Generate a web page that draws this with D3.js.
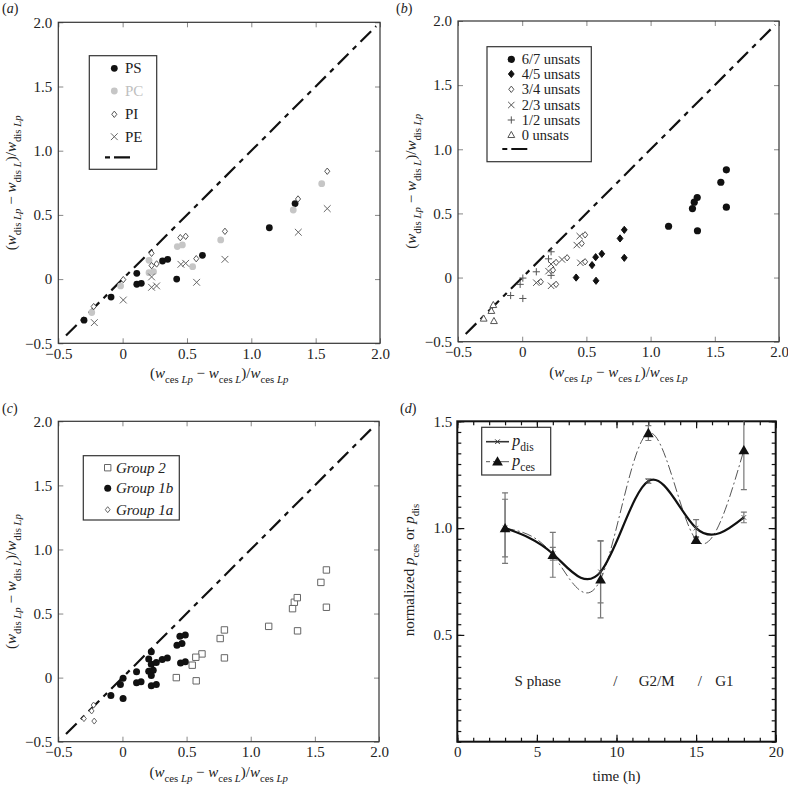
<!DOCTYPE html>
<html><head><meta charset="utf-8">
<script src="https://cdn.jsdelivr.net/npm/d3@7"></script>
<style>
body{margin:0;background:#fff}
svg{display:block}
text{font-family:"Liberation Serif","Times New Roman","DejaVu Serif",serif;fill:#222}
</style>
</head><body>
<svg id="chart" width="788" height="788"></svg>
<script>
// ---------------- DATA ----------------
// 11 lipid species for each head group (same species order in every group)
const psX = [-0.30,-0.09,0.11,0.11,0.145,0.31,0.35,0.42,0.62,1.14,1.34];
const psY = [-0.32,-0.14,0.045,-0.04,-0.033,0.141,0.154,0.0,0.185,0.40,0.588];
const pcX = [-0.24,-0.016,0.205,0.205,0.24,0.425,0.464,0.544,0.762,1.326,1.547];
const pcY = [-0.26,-0.053,0.146,0.05,0.058,0.253,0.266,0.097,0.305,0.538,0.743];
const piX = [-0.225,0.005,0.225,0.225,0.264,0.448,0.49,0.572,0.795,1.363,1.59];
const piY = [-0.214,-0.004,0.201,0.105,0.118,0.323,0.333,0.159,0.372,0.624,0.84];
const peX = [-0.22,0.005,0.225,0.225,0.264,0.453,0.49,0.575,0.795,1.365,1.59];
const peY = [-0.339,-0.163,0.017,-0.064,-0.053,0.115,0.123,-0.025,0.154,0.365,0.549];
const headGroups = ["PS","PC","PI","PE"];
const speciesUnsat = ["0 unsats","1/2 unsats","1/2 unsats","2/3 unsats","3/4 unsats","2/3 unsats","3/4 unsats","4/5 unsats","4/5 unsats","6/7 unsats","6/7 unsats"];
const unsatLabels = ["6/7 unsats","4/5 unsats","3/4 unsats","2/3 unsats","1/2 unsats","0 unsats"];
const groupLabels = ["Group 2","Group 1b","Group 1a"];
const unsatGroup = {"0 unsats":"Group 1a","1/2 unsats":"Group 1b","2/3 unsats":"Group 1b","3/4 unsats":"Group 1b","4/5 unsats":"Group 2","6/7 unsats":"Group 2"};
const scatterTicks = [-0.5,0,0.5,1.0,1.5,2.0];
const scatterTickLabels = ["−0.5","0","0.5","1.0","1.5","2.0"];
const diagonalEnds = [-0.44,1.97];

const timeH = [3,6,9,12,15,18];
const pDis = [1.0,0.88,0.795,1.22,1.0,1.05];
const pDisErr = [0.135,0.03,0.145,0.01,0.04,0.025];
const pCes = [1.0,0.875,0.76,1.445,0.945,1.365];
const pCesErr = [0.165,0.105,0.18,0.035,0.01,0.185];
const timeTicks = [0,5,10,15,20];
const normTicks = [0.5,1.0,1.5];
const phaseText = ["S phase","/","G2/M","/","G1"];
const phaseT = [3.6,9.8,11.4,15.1,16.2];
const phaseLevel = 0.262;

// ---------------- HELPERS ----------------
const svg = d3.select("#chart");
const lipid = [];
[[psX,psY],[pcX,pcY],[piX,piY],[peX,peY]].forEach((xy,gi)=>{
  xy[0].forEach((x,i)=>lipid.push({x:x,y:xy[1][i],head:headGroups[gi],unsat:speciesUnsat[i],group:unsatGroup[speciesUnsat[i]]}));
});

function markerPath(type,s){
  const p=d3.path();
  if(type==="diamond"){p.moveTo(0,-s);p.lineTo(s*0.8,0);p.lineTo(0,s);p.lineTo(-s*0.8,0);p.closePath();}
  else if(type==="cross"){p.moveTo(-s,-s);p.lineTo(s,s);p.moveTo(-s,s);p.lineTo(s,-s);}
  else if(type==="plus"){p.moveTo(-s,0);p.lineTo(s,0);p.moveTo(0,-s);p.lineTo(0,s);}
  else if(type==="triangle"){p.moveTo(0,-s);p.lineTo(s*0.95,s*0.7);p.lineTo(-s*0.95,s*0.7);p.closePath();}
  else if(type==="square"){p.rect(-s,-s,2*s,2*s);}
  return p.toString();
}
function drawMarker(g,st,cx,cy){
  if(st.type==="dot"){
    g.append("circle").attr("cx",cx).attr("cy",cy).attr("r",st.r).attr("fill",st.color);
  } else {
    g.append("path").attr("d",markerPath(st.type,st.s)).attr("transform",`translate(${cx},${cy})`)
     .attr("fill",st.fill||"none").attr("stroke",st.color).attr("stroke-width",st.sw||1);
  }
}
function richText(t,parts,size){
  let shift=0;
  parts.forEach(p=>{
    const target = p.sub? size*0.32 : 0;
    const ts=t.append("tspan").text(p.t).attr("dy",target-shift);
    shift=target;
    if(p.it) ts.attr("font-style","italic");
    ts.attr("font-size", p.sub? size*0.72 : size);
  });
}
const yLabelParts=[{t:"("},{t:"w",it:1},{t:"dis ",sub:1},{t:"Lp",sub:1,it:1},{t:" − "},{t:"w",it:1},{t:"dis ",sub:1},{t:"L",sub:1,it:1},{t:")/"},{t:"w",it:1},{t:"dis ",sub:1},{t:"Lp",sub:1,it:1}];
const xLabelParts=[{t:"("},{t:"w",it:1},{t:"ces ",sub:1},{t:"Lp",sub:1,it:1},{t:" − "},{t:"w",it:1},{t:"ces ",sub:1},{t:"L",sub:1,it:1},{t:")/"},{t:"w",it:1},{t:"ces ",sub:1},{t:"Lp",sub:1,it:1}];

function panelLabel(x,y,letter){
  const t=svg.append("text").attr("x",x).attr("y",y).attr("font-size",14);
  t.append("tspan").text("(");
  t.append("tspan").text(letter).attr("font-style","italic");
  t.append("tspan").text(")");
}

function scatterPanel(box,styleOf,legend){
  const x=d3.scaleLinear().domain([-0.5,2]).range([box.l,box.r]);
  const y=d3.scaleLinear().domain([-0.5,2]).range([box.b,box.t]);
  const g=svg.append("g");
  const fmt=(d)=>scatterTickLabels[scatterTicks.indexOf(d)];
  const ax=(a,tr,lab,pad)=>{
    const s=g.append("g").attr("transform",tr).call(a.tickValues(scatterTicks).tickSize(-5).tickPadding(lab?pad:0).tickFormat(lab?fmt:""));
    s.select(".domain").remove();
    s.attr("font-family",null);
    s.selectAll(".tick line").attr("stroke","#888");
    s.selectAll("text").attr("font-size",15).attr("fill","#222");
    return s;
  };
  ax(d3.axisBottom(x),`translate(0,${box.b})`,true,5);
  ax(d3.axisTop(x),`translate(0,${box.t})`,false,0);
  ax(d3.axisLeft(y),`translate(${box.l},0)`,true,6);
  ax(d3.axisRight(y),`translate(${box.r},0)`,false,0);
  g.append("rect").attr("x",box.l).attr("y",box.t).attr("width",box.r-box.l).attr("height",box.b-box.t)
   .attr("fill","none").attr("stroke","#333").attr("stroke-width",1.2);
  g.append("line").attr("x1",x(diagonalEnds[0])).attr("y1",y(diagonalEnds[0]))
   .attr("x2",x(diagonalEnds[1])).attr("y2",y(diagonalEnds[1]))
   .attr("stroke","#111").attr("stroke-width",2.2).attr("stroke-dasharray","15,6,5,6");
  lipid.forEach(d=>{const st=styleOf(d); if(st) drawMarker(g,st,x(d.x),y(d.y));});
  // axis labels
  const xl=svg.append("text").attr("x",(box.l+box.r)/2).attr("y",box.b+35).attr("text-anchor","middle");
  richText(xl,xLabelParts,15);
  const yl=svg.append("text").attr("transform",`translate(${box.l-42},${(box.t+box.b)/2}) rotate(-90)`).attr("text-anchor","middle");
  richText(yl,yLabelParts,15);
  // legend
  const L=legend;
  g.append("rect").attr("x",L.x).attr("y",L.y).attr("width",L.w).attr("height",L.h)
   .attr("fill","white").attr("stroke","#333").attr("stroke-width",1.2);
  L.items.forEach((it,i)=>{
    const yy=L.rows[i];
    drawMarker(g,it.style,L.mx,yy);
    g.append("text").attr("x",L.tx).attr("y",yy+5).attr("font-size",L.fs)
     .attr("font-style",L.italic?"italic":null).style("fill",it.textColor||"#222").text(it.label);
  });
  if(L.lineY){
    g.append("line").attr("x1",L.lx[0]).attr("x2",L.lx[1]).attr("y1",L.lineY).attr("y2",L.lineY)
     .attr("stroke","#111").attr("stroke-width",2.2).attr("stroke-dasharray","5,4,20,0");
  }
}

// ---------------- PANEL (a) ----------------
const headStyle={
  PS:{type:"dot",r:3.4,color:"#111"},
  PC:{type:"dot",r:3.4,color:"#c6c6c6"},
  PI:{type:"diamond",s:3.2,color:"#555",fill:"white"},
  PE:{type:"cross",s:3.4,color:"#666"}
};
scatterPanel({l:58.3,r:380,t:22.3,b:343.3},d=>headStyle[d.head],{
  x:89.3,y:55.7,w:67.4,h:113.6,mx:114.3,tx:125,fs:15,
  rows:[68.3,91,114.3,136.7],lineY:157.3,lx:[105,130],
  items:headGroups.map(h=>({label:h,style:headStyle[h],textColor:h==="PC"?"#c0c0c0":"#222"}))
});
panelLabel(2,13,"a");

// ---------------- PANEL (b) ----------------
const unsatStyle={
  "6/7 unsats":{type:"dot",r:3.6,color:"#111"},
  "4/5 unsats":{type:"diamond",s:3.6,color:"#111",fill:"#111"},
  "3/4 unsats":{type:"diamond",s:3.2,color:"#555",fill:"white"},
  "2/3 unsats":{type:"cross",s:3.2,color:"#555"},
  "1/2 unsats":{type:"plus",s:3.6,color:"#555"},
  "0 unsats":{type:"triangle",s:3.6,color:"#555",fill:"white"}
};
scatterPanel({l:458,r:779,t:21,b:341.7},d=>unsatStyle[d.unsat],{
  x:487,y:46.7,w:104.3,h:115,mx:511.3,tx:521.7,fs:14.5,
  rows:[59.3,74,89.3,105,120,135],lineY:149,lx:[502.3,527.3],
  items:unsatLabels.map(u=>({label:u,style:unsatStyle[u]}))
});
panelLabel(396,13,"b");

// ---------------- PANEL (c) ----------------
const groupStyle={
  "Group 2":{type:"square",s:3.2,color:"#666",fill:"white"},
  "Group 1b":{type:"dot",r:3.5,color:"#111"},
  "Group 1a":{type:"diamond",s:3.0,color:"#666",fill:"white"}
};
scatterPanel({l:58.3,r:379,t:421.3,b:741.7},d=>groupStyle[d.group],{
  x:83.3,y:455.7,w:96,h:64.3,mx:107.7,tx:116,fs:15,italic:true,
  rows:[467.7,488.3,509.7],
  items:groupLabels.map(gl=>({label:gl,style:groupStyle[gl]}))
});
panelLabel(2,413,"c");

// ---------------- PANEL (d) ----------------
(function(){
  const box={l:457.3,r:775.7,t:421.3,b:741.7};
  const x=d3.scaleLinear().domain([0,20]).range([box.l,box.r]);
  const y=d3.scaleLinear().domain([0,1.5]).range([box.b,box.t]);
  const g=svg.append("g");
  const minorX=d3.range(0,21,1), minorY=d3.range(0,1.5001,0.05);
  const mk=(axis,tr,vals,size,fmt)=>{
    const s=g.append("g").attr("transform",tr).call(axis.tickValues(vals).tickSize(-size).tickPadding(5).tickFormat(fmt||""));
    s.select(".domain").remove();
    s.attr("font-family",null);
    s.selectAll(".tick line").attr("stroke","#111").attr("stroke-width",1.2);
    s.selectAll("text").attr("font-size",15).attr("fill","#222");
    return s;
  };
  mk(d3.axisBottom(x),`translate(0,${box.b})`,minorX,4);
  mk(d3.axisTop(x),`translate(0,${box.t})`,minorX,4);
  mk(d3.axisLeft(y),`translate(${box.l},0)`,minorY,4);
  mk(d3.axisRight(y),`translate(${box.r},0)`,minorY,4);
  mk(d3.axisBottom(x),`translate(0,${box.b})`,timeTicks,7,d3.format("d"));
  mk(d3.axisTop(x),`translate(0,${box.t})`,timeTicks,7);
  mk(d3.axisLeft(y),`translate(${box.l},0)`,normTicks,7,d3.format(".1f"));
  mk(d3.axisRight(y),`translate(${box.r},0)`,normTicks,7);
  g.append("rect").attr("x",box.l).attr("y",box.t).attr("width",box.r-box.l).attr("height",box.b-box.t)
   .attr("fill","none").attr("stroke","#111").attr("stroke-width",2);

  const clip=svg.append("clipPath").attr("id","clipd").append("rect")
    .attr("x",box.l).attr("y",box.t).attr("width",box.r-box.l).attr("height",box.b-box.t);
  const pg=g.append("g").attr("clip-path","url(#clipd)");
  // error bars
  function errBars(vals,errs){
    timeH.forEach((t,i)=>{
      const cx=x(t), y1=y(vals[i]-errs[i]), y2=y(vals[i]+errs[i]);
      pg.append("line").attr("x1",cx).attr("x2",cx).attr("y1",y1).attr("y2",y2).attr("stroke","#777").attr("stroke-width",1.2);
      [y1,y2].forEach(yy=>pg.append("line").attr("x1",cx-3).attr("x2",cx+3).attr("y1",yy).attr("y2",yy).attr("stroke","#777").attr("stroke-width",1.2));
    });
  }
  errBars(pCes,pCesErr);
  errBars(pDis,pDisErr);
  const line=(vals)=>d3.line().x((d,i)=>x(timeH[i])).y(d=>y(d)).curve(d3.curveNatural)(vals);
  pg.append("path").attr("d",line(pCes)).attr("fill","none").attr("stroke","#555").attr("stroke-width",1)
    .attr("stroke-dasharray","10,3,2,3");
  pg.append("path").attr("d",line(pDis)).attr("fill","none").attr("stroke","#111").attr("stroke-width",2.2);
  timeH.forEach((t,i)=>{
    pg.append("path").attr("d",markerPath("cross",2.3)).attr("transform",`translate(${x(t)},${y(pDis[i])})`)
      .attr("stroke","#555").attr("stroke-width",1).attr("fill","none");
    pg.append("path").attr("d",d3.symbol(d3.symbolTriangle,50)()).attr("transform",`translate(${x(t)},${y(pCes[i])+1})`)
      .attr("fill","#111");
  });
  // phase labels
  phaseText.forEach((s,i)=>g.append("text").attr("x",x(phaseT[i])).attr("y",y(phaseLevel)).attr("font-size",15).text(s));
  // legend
  const L={x:481.7,y:427.3,w:69,h:47.7};
  g.append("rect").attr("x",L.x).attr("y",L.y).attr("width",L.w).attr("height",L.h)
   .attr("fill","white").attr("stroke","#333").attr("stroke-width",1.2);
  g.append("line").attr("x1",486).attr("x2",509).attr("y1",441.7).attr("y2",441.7).attr("stroke","#333").attr("stroke-width",1.6);
  g.append("path").attr("d",markerPath("cross",2.3)).attr("transform","translate(497.5,441.7)").attr("stroke","#333").attr("fill","none");
  g.append("line").attr("x1",486).attr("x2",509).attr("y1",461.7).attr("y2",461.7).attr("stroke","#555").attr("stroke-width",1).attr("stroke-dasharray","4,3,20,0");
  g.append("path").attr("d",d3.symbol(d3.symbolTriangle,50)()).attr("transform","translate(497.5,462.5)").attr("fill","#111");
  const t1=g.append("text").attr("x",512.3).attr("y",446);
  richText(t1,[{t:"p",it:1},{t:"dis",sub:1}],16);
  const t2=g.append("text").attr("x",512.3).attr("y",466);
  richText(t2,[{t:"p",it:1},{t:"ces",sub:1}],16);
  // axis labels
  svg.append("text").attr("x",(box.l+box.r)/2).attr("y",781).attr("text-anchor","middle").attr("font-size",15).text("time (h)");
  const yl=svg.append("text").attr("transform",`translate(414,570) rotate(-90)`).attr("text-anchor","middle");
  richText(yl,[{t:"normalized "},{t:"p",it:1},{t:"ces",sub:1},{t:" or "},{t:"p",it:1},{t:"dis",sub:1}],15);
  panelLabel(400,413,"d");
})();
</script>
</body></html>
